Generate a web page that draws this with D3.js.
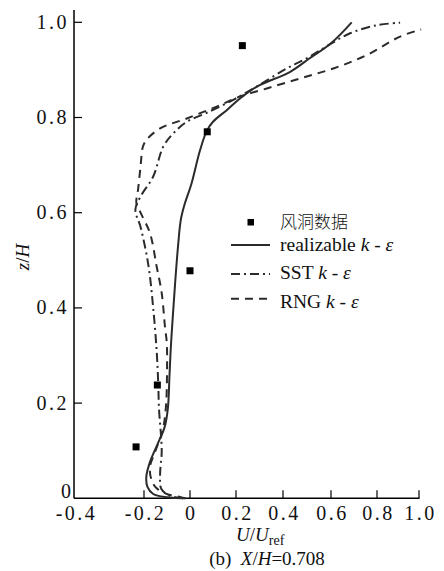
<!DOCTYPE html>
<html><head><meta charset="utf-8">
<script src="https://cdn.jsdelivr.net/npm/d3@7"></script>
<style>
html,body{margin:0;padding:0;background:#fff;}
svg{display:block;}
text{font-family:"Liberation Serif","Times New Roman",serif;fill:#111;}
</style></head>
<body>
<script>
// ---- data ----
const xTicks = [-0.4, -0.2, 0, 0.2, 0.4, 0.6, 0.8, 1.0];
const xTickLabels = ["-0.4", "-0.2", "0", "0.2", "0.4", "0.6", "0.8", "1.0"];
const yTicks = [0, 0.2, 0.4, 0.6, 0.8, 1.0];
const yTickLabels = ["0", "0.2", "0.4", "0.6", "0.8", "1.0"];

// wind tunnel data [U/Uref, z/H]
const windTunnel = [[0.227, 0.951], [0.075, 0.770], [0.0, 0.478], [-0.142, 0.238], [-0.223, 0.108]];

const realizable = [[-0.02, 0.0], [-0.10, 0.002], [-0.16, 0.009], [-0.185, 0.024], [-0.19, 0.045], [-0.175, 0.075],
  [-0.14, 0.115], [-0.11, 0.15], [-0.096, 0.19], [-0.089, 0.26], [-0.083, 0.32], [-0.075, 0.38], [-0.065, 0.45],
  [-0.052, 0.53], [-0.04, 0.585], [-0.025, 0.615], [0.007, 0.662], [0.043, 0.73], [0.073, 0.772], [0.10, 0.791],
  [0.161, 0.816], [0.217, 0.84], [0.289, 0.865], [0.43, 0.896], [0.51, 0.924], [0.60, 0.956], [0.69, 1.0]];

const sst = [[-0.03, 0.0], [-0.09, 0.006], [-0.125, 0.02], [-0.13, 0.05], [-0.123, 0.10], [-0.135, 0.19],
  [-0.138, 0.24], [-0.145, 0.31], [-0.16, 0.40], [-0.181, 0.49], [-0.21, 0.57], [-0.225, 0.606], [-0.21, 0.634],
  [-0.16, 0.676], [-0.116, 0.739], [-0.072, 0.767], [-0.014, 0.791], [0.073, 0.81], [0.188, 0.837], [0.288, 0.865],
  [0.415, 0.903], [0.498, 0.924], [0.58, 0.949], [0.683, 0.977], [0.80, 0.994], [0.91, 0.999]];

const rng = [[-0.02, 0.0], [-0.043, 0.003], [-0.101, 0.009], [-0.145, 0.021], [-0.167, 0.038], [-0.174, 0.066],
  [-0.15, 0.10], [-0.12, 0.14], [-0.105, 0.19], [-0.10, 0.26], [-0.101, 0.326], [-0.109, 0.361], [-0.123, 0.431],
  [-0.145, 0.487], [-0.174, 0.557], [-0.21, 0.60], [-0.222, 0.62], [-0.217, 0.65], [-0.21, 0.697], [-0.203, 0.739],
  [-0.189, 0.753], [-0.13, 0.777], [-0.014, 0.798], [0.116, 0.823], [0.217, 0.844], [0.331, 0.861], [0.471, 0.882],
  [0.61, 0.903], [0.755, 0.931], [0.91, 0.970], [1.01, 0.985]];

const seriesNames = ["realizable", "SST", "RNG"];
const legendDataLabel = "风洞数据";

// ---- drawing ----
const W = 444, H = 571;
const svg = d3.select("body").append("svg").attr("width", W).attr("height", H)
  .attr("font-family", "'Liberation Serif', 'Times New Roman', serif");

const x = d3.scaleLinear().domain(xTicks).range([75, 144, 190, 236, 283, 331, 377, 419]);
const y = d3.scaleLinear().domain([0, 1]).range([498.3, 22.3]);
const x0 = 74, yBottom = 498.3;

const ink = "#2b2b2b";

// axes
svg.append("line").attr("x1", x0).attr("x2", x0).attr("y1", 10).attr("y2", yBottom)
  .attr("stroke", "#000").attr("stroke-width", 1.5);
svg.append("line").attr("x1", x0).attr("x2", x(1.0) + 0.5).attr("y1", yBottom).attr("y2", yBottom)
  .attr("stroke", "#000").attr("stroke-width", 1.5);

// y ticks (inward)
yTicks.forEach((t, i) => {
  if (t !== 0) {
    svg.append("line").attr("x1", x0).attr("x2", x0 + 8).attr("y1", y(t)).attr("y2", y(t))
      .attr("stroke", "#000").attr("stroke-width", 1.2);
  }
  svg.append("text").attr("x", t === 0 ? 71 : 69).attr("y", y(t) + (t === 0 ? -0.5 : 6.5))
    .attr("text-anchor", "end").attr("font-size", 20).attr("letter-spacing", t === 0 ? 0 : 2.5)
    .text(yTickLabels[i]);
});
// x ticks (inward)
xTicks.forEach((t, i) => {
  if (t !== -0.4) {
    svg.append("line").attr("x1", x(t)).attr("x2", x(t)).attr("y1", yBottom).attr("y2", yBottom - 8)
      .attr("stroke", "#000").attr("stroke-width", 1.2);
  }
  svg.append("text").attr("x", x(t) + (xTickLabels[i].length > 1 ? 1.5 : 0)).attr("y", 520)
    .attr("text-anchor", "middle").attr("font-size", 20).attr("letter-spacing", xTickLabels[i].length > 1 ? 2.5 : 0)
    .text(xTickLabels[i]);
});

// axis titles
const xt = svg.append("text").attr("x", 236).attr("y", 541).attr("font-size", 19);
xt.append("tspan").attr("font-style", "italic").text("U");
xt.append("tspan").text("/");
xt.append("tspan").attr("font-style", "italic").text("U");
xt.append("tspan").attr("font-size", 14).attr("dy", 4).text("ref");

const yt = svg.append("text").attr("transform", "translate(29,257) rotate(-90)")
  .attr("text-anchor", "middle").attr("font-size", 19);
yt.append("tspan").attr("font-style", "italic").text("z");
yt.append("tspan").text("/");
yt.append("tspan").attr("font-style", "italic").text("H");

const cap = svg.append("text").attr("x", 267).attr("y", 565).attr("text-anchor", "middle").attr("font-size", 19);
cap.append("tspan").text("(b)\u00a0\u00a0");
cap.append("tspan").attr("font-style", "italic").text("X");
cap.append("tspan").text("/");
cap.append("tspan").attr("font-style", "italic").text("H");
cap.append("tspan").text("=0.708");

// curves
const line = d3.line().x(d => x(d[0])).y(d => y(d[1])).curve(d3.curveCatmullRom.alpha(0.5));
const styles = [
  { data: realizable, dash: null },
  { data: sst, dash: "9,4,2,4" },
  { data: rng, dash: "8,6" }
];
styles.forEach(s => {
  svg.append("path").attr("d", line(s.data)).attr("fill", "none").attr("stroke", ink)
    .attr("stroke-width", 2).attr("stroke-dasharray", s.dash);
});

// wind tunnel points
svg.selectAll("rect.wt").data(windTunnel).enter().append("rect").attr("class", "wt")
  .attr("x", d => x(d[0]) - 3.5).attr("y", d => y(d[1]) - 3.5).attr("width", 7).attr("height", 7).attr("fill", "#000");

// legend
const lg = svg.append("g");
lg.append("rect").attr("x", 247.5).attr("y", 219).attr("width", 6.5).attr("height", 6.5).attr("fill", "#000");
lg.append("text").attr("x", 280).attr("y", 227.5).attr("font-size", 17)
  .style("font-family", "'Noto Sans CJK SC', sans-serif").attr("font-weight", 300).text(legendDataLabel);
const legRows = [
  { yLine: 245, yText: 251, dash: null, name: seriesNames[0] },
  { yLine: 274, yText: 279, dash: "9,4,2,4", name: seriesNames[1] },
  { yLine: 298.7, yText: 308, dash: "8,6", name: seriesNames[2] }
];
legRows.forEach(r => {
  lg.append("line").attr("x1", 231).attr("x2", 270).attr("y1", r.yLine).attr("y2", r.yLine)
    .attr("stroke", ink).attr("stroke-width", 2).attr("stroke-dasharray", r.dash);
  const t = lg.append("text").attr("x", 280).attr("y", r.yText).attr("font-size", 19.5);
  t.append("tspan").text(r.name + " ");
  t.append("tspan").attr("font-style", "italic").text("k");
  t.append("tspan").text(" - ");
  t.append("tspan").attr("font-style", "italic").text("ε");
});
</script>
</body></html>
